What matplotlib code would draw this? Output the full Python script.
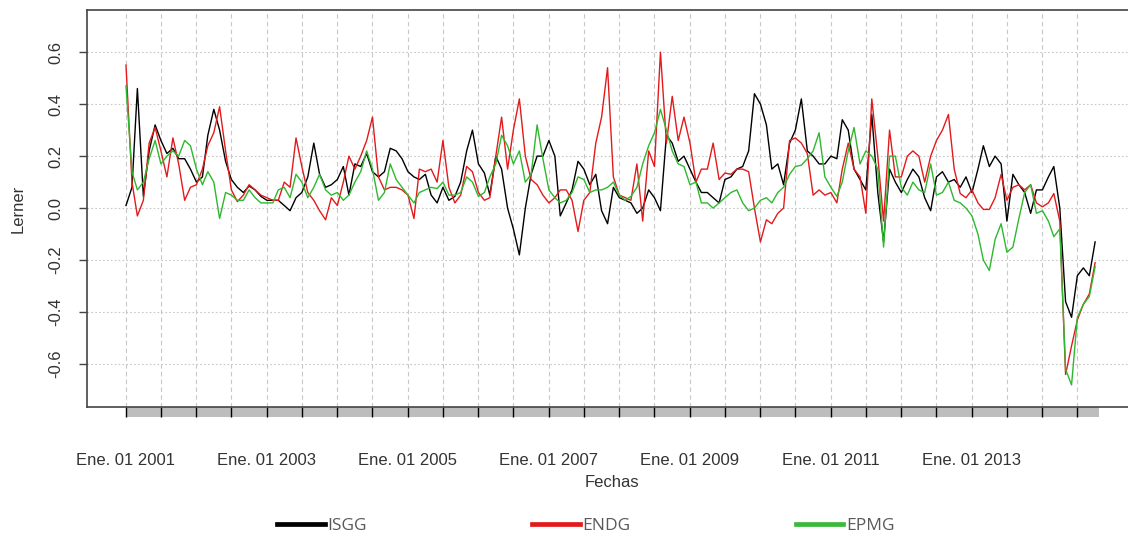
import pandas as pd
import matplotlib.pyplot as plt
import matplotlib.dates as mdates
import matplotlib.transforms as mtransforms
from matplotlib.patches import Rectangle
from matplotlib.lines import Line2D

# Monthly Lerner index values (Jan 2001 onwards)
isgg = [0.01, 0.08, 0.46, 0.045, 0.22, 0.32, 0.26, 0.21, 0.23, 0.19,
        0.19, 0.15, 0.10, 0.12, 0.28, 0.38, 0.30, 0.18, 0.11, 0.08,
        0.06, 0.085, 0.07, 0.045, 0.03, 0.03, 0.03, 0.01, -0.01, 0.04,
        0.06, 0.12, 0.25, 0.13, 0.08, 0.09, 0.11, 0.16, 0.05, 0.17,
        0.16, 0.21, 0.14, 0.12, 0.14, 0.23, 0.22, 0.19, 0.14, 0.12,
        0.11, 0.13, 0.05, 0.02, 0.08, 0.03, 0.045, 0.10, 0.22, 0.30,
        0.17, 0.135, 0.05, 0.20, 0.15, 0.0, -0.08, -0.18, 0.0, 0.13,
        0.20, 0.20, 0.26, 0.20, -0.03, 0.02, 0.07, 0.18, 0.15, 0.09,
        0.13, -0.01, -0.06, 0.08, 0.04, 0.03, 0.02, -0.02, 0.0, 0.07,
        0.04, -0.01, 0.28, 0.25, 0.18, 0.20, 0.15, 0.10, 0.06, 0.06,
        0.04, 0.02, 0.11, 0.12, 0.15, 0.16, 0.22, 0.44, 0.40, 0.32,
        0.15, 0.17, 0.09, 0.25, 0.30, 0.42, 0.22, 0.20, 0.17, 0.17,
        0.20, 0.19, 0.34, 0.30, 0.15, 0.11, 0.07, 0.36, 0.06, -0.13,
        0.15, 0.10, 0.06, 0.11, 0.15, 0.12, 0.04, -0.01, 0.12, 0.14,
        0.10, 0.11, 0.08, 0.12, 0.06, 0.15, 0.24, 0.16, 0.20, 0.17,
        -0.05, 0.13, 0.09, 0.06, -0.02, 0.07, 0.07, 0.12, 0.16, 0.0,
        -0.36, -0.42, -0.26, -0.23, -0.26, -0.13]

endg = [0.55, 0.10, -0.03, 0.03, 0.25, 0.31, 0.22, 0.12, 0.27, 0.17,
        0.03, 0.08, 0.09, 0.15, 0.24, 0.29, 0.39, 0.22, 0.07, 0.025,
        0.05, 0.09, 0.07, 0.05, 0.04, 0.03, 0.03, 0.10, 0.08, 0.27,
        0.16, 0.06, 0.03, -0.01, -0.045, 0.04, 0.01, 0.10, 0.20, 0.15,
        0.20, 0.26, 0.35, 0.12, 0.07, 0.08, 0.08, 0.07, 0.05, -0.04,
        0.15, 0.14, 0.15, 0.10, 0.26, 0.08, 0.02, 0.05, 0.16, 0.14,
        0.06, 0.03, 0.04, 0.20, 0.35, 0.15, 0.30, 0.42, 0.20, 0.11,
        0.09, 0.05, 0.02, 0.04, 0.07, 0.07, 0.03, -0.09, 0.03, 0.06,
        0.25, 0.35, 0.54, 0.12, 0.05, 0.04, 0.03, 0.17, -0.05, 0.22,
        0.16, 0.60, 0.25, 0.43, 0.26, 0.35, 0.25, 0.10, 0.15, 0.15,
        0.25, 0.11, 0.135, 0.13, 0.15, 0.15, 0.14, 0.0, -0.13, -0.045,
        -0.06, -0.02, 0.0, 0.26, 0.27, 0.25, 0.21, 0.05, 0.07, 0.05,
        0.06, 0.02, 0.15, 0.25, 0.15, 0.12, -0.02, 0.42, 0.20, -0.05,
        0.30, 0.12, 0.12, 0.20, 0.22, 0.20, 0.10, 0.20, 0.26, 0.30,
        0.36, 0.15, 0.056, 0.04, 0.07, 0.02, -0.005, -0.005, 0.04, 0.13,
        0.03, 0.08, 0.09, 0.07, 0.09, 0.02, 0.005, 0.02, 0.056, -0.05,
        -0.64, -0.53, -0.43, -0.37, -0.33, -0.21]

epmg = [0.47, 0.14, 0.07, 0.10, 0.19, 0.26, 0.17, 0.20, 0.22, 0.20,
        0.26, 0.24, 0.15, 0.09, 0.14, 0.10, -0.04, 0.06, 0.05, 0.03,
        0.03, 0.07, 0.04, 0.02, 0.02, 0.02, 0.07, 0.08, 0.04, 0.13,
        0.10, 0.04, 0.08, 0.13, 0.07, 0.05, 0.06, 0.03, 0.05, 0.10,
        0.14, 0.22, 0.15, 0.03, 0.06, 0.17, 0.11, 0.08, 0.05, 0.02,
        0.06, 0.07, 0.08, 0.075, 0.10, 0.05, 0.05, 0.06, 0.12, 0.10,
        0.045, 0.06, 0.12, 0.17, 0.28, 0.24, 0.17, 0.22, 0.10, 0.13,
        0.32, 0.19, 0.07, 0.04, 0.02, 0.03, 0.06, 0.12, 0.11, 0.06,
        0.07, 0.07, 0.08, 0.10, 0.05, 0.03, 0.045, 0.08, 0.17, 0.24,
        0.29, 0.38, 0.30, 0.22, 0.17, 0.16, 0.09, 0.10, 0.02, 0.02,
        0.0, 0.02, 0.04, 0.06, 0.07, 0.02, -0.01, 0.0, 0.03, 0.04,
        0.02, 0.06, 0.08, 0.13, 0.16, 0.165, 0.19, 0.22, 0.29, 0.12,
        0.08, 0.045, 0.10, 0.22, 0.31, 0.17, 0.22, 0.20, 0.15, -0.15,
        0.20, 0.20, 0.08, 0.05, 0.10, 0.07, 0.06, 0.17, 0.05, 0.06,
        0.10, 0.03, 0.02, 0.0, -0.03, -0.10, -0.20, -0.24, -0.12, -0.06,
        -0.17, -0.15, -0.04, 0.06, 0.09, -0.02, -0.01, -0.05, -0.11, -0.08,
        -0.62, -0.68, -0.42, -0.37, -0.34, -0.225]

series_names = ['ISGG', 'ENDG', 'EPMG']
series_colors = ['black', '#e31a1c', '#2eb82e']
y_ticks = [-0.6, -0.4, -0.2, 0.0, 0.2, 0.4, 0.6]
label_years = [2001, 2003, 2005, 2007, 2009, 2011, 2013]

dates = pd.date_range('2001-01-01', periods=len(isgg), freq='MS')
start = dates[0]

fig = plt.figure(figsize=(11.28, 5.33), dpi=100)
ax = fig.add_axes([87 / 1128, 1 - 407 / 533, 1050 / 1128, 397 / 533])

# grid: dashed verticals every half year, dotted horizontals
half_years = pd.date_range('2001-01-01', '2014-07-01', freq='6MS')
for d in half_years:
    ax.axvline(d, color='#c8c8c8', lw=0.8, ls=(0, (4, 3)), zorder=0)
for y in y_ticks:
    ax.axhline(y, color='#c8c8c8', lw=0.8, ls=(0, (1.5, 2)), zorder=0)

for vals, name, col in zip([isgg, endg, epmg], series_names, series_colors):
    ax.plot(dates, vals, color=col, lw=1.0, label=name)

ax.set_xlim(start - pd.Timedelta(days=202), start + pd.Timedelta(days=5238))
ax.set_ylim(-0.765, 0.762)

# grey time bar under the axis
trans = mtransforms.blended_transform_factory(ax.transData, ax.transAxes)
bar_end = dates[-1] + pd.Timedelta(days=22)
x0 = mdates.date2num(start)
ax.add_patch(Rectangle((x0, -10 / 397), mdates.date2num(bar_end) - x0, 10 / 397,
                       transform=trans, facecolor='#bdbdbd', edgecolor='none',
                       clip_on=False, zorder=1))

ax.set_xticks([pd.Timestamp(f'{y}-01-01') for y in label_years])
ax.set_xticklabels([f'Ene. 01 {y}' for y in label_years])
ax.set_xticks(half_years, minor=True)
ax.tick_params(axis='x', which='both', direction='out', length=7.2, width=1.0,
               color='black', pad=26)
ax.tick_params(axis='x', labelsize=12, labelcolor='#333333')

ax.set_yticks(y_ticks)
ax.set_yticklabels([f'{v:.1f}' for v in y_ticks])
ax.tick_params(axis='y', direction='out', length=6, width=1.0, color='#444444',
               labelsize=12, labelcolor='#333333', pad=11)
for lab in ax.get_yticklabels():
    lab.set_rotation(90)
    lab.set_va('center')

for lab in ax.get_xticklabels() + ax.get_yticklabels():
    lab.set_fontfamily('Liberation Sans')

for side in ['left', 'top', 'bottom']:
    ax.spines[side].set_color('#444444')
    ax.spines[side].set_linewidth(1.2)
ax.spines['right'].set_visible(False)

ax.set_xlabel('Fechas', fontsize=12, color='#333333', family='Liberation Sans')
ax.xaxis.set_label_coords(0.5, -0.171)
ax.set_ylabel('Lerner', fontsize=12, color='#333333', family='Liberation Sans')
ax.yaxis.set_label_coords(-0.058, 0.5)

handles = [Line2D([], [], color=c, lw=3.4) for c in ['black', '#e31a1c', '#3cb93c']]
fig.legend(handles, series_names, loc='center left', ncol=3,
           bbox_to_anchor=(277 / 1128, 1 - 526 / 533), frameon=False,
           borderpad=0, borderaxespad=0, handlelength=2.76, handletextpad=0.15,
           columnspacing=9.5, prop={'family': 'Open Sans', 'size': 12.5},
           labelcolor='#595959')

fig.savefig('out.png', dpi=100)
